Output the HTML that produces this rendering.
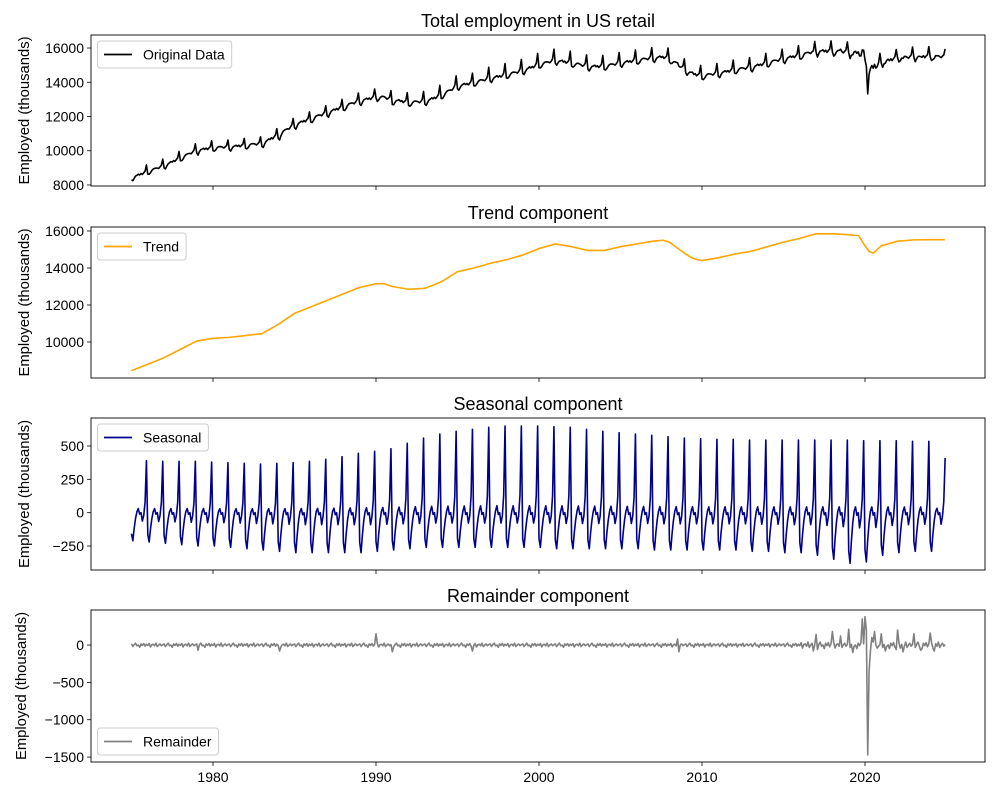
<!DOCTYPE html>
<html><head><meta charset="utf-8"><style>
body{margin:0;background:#fff;}
svg{display:block;font-family:"Liberation Sans","DejaVu Sans",sans-serif;}
</style></head><body>
<svg id="chart" width="1000" height="800" viewBox="0 0 1000 800" xmlns="http://www.w3.org/2000/svg"></svg>
<script>
// ---- data ----
const trendYears  = [1975,1976,1977,1978,1979,1980,1981,1982,1983,1984,1985,1986,1987,1988,1989,1990,1990.5,1991,1992,1993,1994,1995,1996,1997,1998,1999,2000,2001,2002,2003,2004,2005,2006,2007,2007.6,2008,2009,2009.5,2010,2011,2012,2013,2014,2015,2016,2017,2018,2019,2019.6,2020,2020.25,2020.5,2021,2022,2023,2024,2024.9];
const trendValues = [8450,8800,9150,9600,10050,10200,10250,10350,10450,10950,11550,11900,12250,12600,12950,13150,13150,13000,12850,12900,13250,13800,14000,14250,14450,14700,15050,15300,15150,14950,14950,15150,15300,15450,15500,15400,14750,14500,14400,14550,14750,14900,15150,15400,15600,15850,15850,15800,15750,15200,14900,14800,15200,15450,15520,15530,15530];
const seasonYears = [1975,1976,1977,1978,1979,1980,1981,1982,1983,1984,1985,1986,1987,1988,1989,1990,1991,1992,1993,1994,1995,1996,1997,1998,1999,2000,2001,2002,2003,2004,2005,2006,2007,2008,2009,2010,2011,2012,2013,2014,2015,2016,2017,2018,2019,2020,2021,2022,2023,2024];
const seasonPeak  = [390,385,385,385,380,375,370,365,370,375,385,400,420,445,460,480,520,560,590,610,625,640,650,650,650,645,640,625,610,600,590,580,570,560,555,550,550,545,545,545,545,545,545,545,540,540,540,535,535,410];
const seasonTrough= [-210,-220,-230,-240,-250,-250,-260,-270,-280,-290,-300,-300,-300,-300,-300,-290,-280,-270,-260,-260,-260,-260,-260,-260,-260,-260,-270,-270,-270,-270,-270,-270,-280,-280,-280,-280,-280,-280,-290,-290,-300,-300,-320,-350,-380,-370,-320,-300,-290,-290];
const monthShape  = [-0.75,-1.0,-0.55,-0.2,0.02,0.08,-0.05,0.0,-0.3,-0.1,0.2,1.0];
const noiseCycle  = [15,-20,5,25,-10,0,-30,15,-5,20,-15,10,-5,20,-25,5,10,-10,25,-20,0,15,-10,5];
const spikeMonths = ["1979-1","1984-1","1990-0","1991-0","1995-11","2008-6","2008-7","2016-10","2017-0","2017-1","2018-0","2018-6","2019-0","2019-3","2019-10","2020-0","2020-1","2020-2","2020-3","2020-4","2020-5","2020-7","2020-9","2021-0","2021-3","2021-11","2022-0","2022-4","2023-0","2023-5","2024-0","2024-3"];
const spikeValues = [-70,-80,150,-90,-80,80,-90,-80,140,-60,180,120,210,-100,350,380,200,-1470,-350,-80,100,180,-40,150,-80,-60,200,-90,150,-70,160,-80];
const xTicks = [1980,1990,2000,2010,2020];
// ---- layout ----
const X0=131.5, PXY=16.3;
const xs = y => X0+(y-1975)*PXY;
const panels = [
 {top:35,bot:186,vmin:7940,vmax:16760,title:"Total employment in US retail",ticks:[8000,10000,12000,14000,16000],color:"#000000",label:"Original Data",legendTop:true},
 {top:227,bot:378,vmin:8054,vmax:16216,title:"Trend component",ticks:[10000,12000,14000,16000],color:"#ffa500",label:"Trend",legendTop:true},
 {top:418,bot:570,vmin:-430,vmax:710,title:"Seasonal component",ticks:[-250,0,250,500],color:"#00008b",label:"Seasonal",legendTop:true},
 {top:610,bot:762,vmin:-1566,vmax:469,title:"Remainder component",ticks:[-1500,-1000,-500,0],color:"#808080",label:"Remainder",legendTop:false}
];
const svg=document.getElementById('chart');
const NS="http://www.w3.org/2000/svg";
function mk(tag,attrs,parent){const e=document.createElementNS(NS,tag);for(const k in attrs)e.setAttribute(k,attrs[k]);(parent||svg).appendChild(e);return e;}
function trendAt(t){for(let i=0;i<trendYears.length-1;i++){if(t<=trendYears[i+1]){const f=(t-trendYears[i])/(trendYears[i+1]-trendYears[i]);return trendValues[i]+f*(trendValues[i+1]-trendValues[i]);}}return trendValues[trendValues.length-1];}
const months=[],seas=[],rem=[],orig=[];
for(let yi=0;yi<seasonYears.length;yi++){for(let m=0;m<12;m++){
 const t=seasonYears[yi]+m/12;
 const sh=monthShape[m];
 const s= sh>=0? sh*seasonPeak[yi] : -sh*seasonTrough[yi];
 const key=seasonYears[yi]+"-"+m; const si=spikeMonths.indexOf(key);
 const r= si>=0? spikeValues[si] : noiseCycle[(yi*12+m)%noiseCycle.length]*(seasonYears[yi]>=2016?1.6:1.0);
 months.push(t);seas.push(s);rem.push(r);orig.push(trendAt(t)+s+r);
}}
const seriesSets=[[months,orig],[trendYears,trendValues],[months,seas],[months,rem]];
panels.forEach((p,pi)=>{
 const g=mk('g',{});  
 const ys=v=>p.bot-(v-p.vmin)/(p.vmax-p.vmin)*(p.bot-p.top);
 const t=mk('text',{x:538,y:p.top-8,'text-anchor':'middle','font-size':'18',fill:'#000'},g);t.textContent=p.title;
  
 p.ticks.forEach(v=>{const y=ys(v);mk('line',{x1:87,x2:91,y1:y,y2:y,stroke:'#000','stroke-width':0.8},g);
  const l=mk('text',{x:84,y:y+5,'text-anchor':'end','font-size':'14',fill:'#000'},g);l.textContent=(v<0?'\u2212'+(-v):v);
   });
 xTicks.forEach(v=>{const x=xs(v);mk('line',{x1:x,x2:x,y1:p.bot,y2:p.bot+4,stroke:'#000','stroke-width':0.8},g);
  if(pi===3){const l=mk('text',{x:x,y:p.bot+20,'text-anchor':'middle','font-size':'14',fill:'#000'},g);l.textContent=v;
   }});
 const yl=mk('text',{transform:`translate(${pi===3?26:29},${(p.top+p.bot)/2}) rotate(-90)`,'text-anchor':'middle','font-size':'14.8',fill:'#000'},g);
 yl.textContent='Employed (thousands)';
  
 const [tx,vy]=seriesSets[pi];
 let d='';for(let i=0;i<tx.length;i++){d+=(i?'L':'M')+xs(tx[i]).toFixed(2)+','+ys(vy[i]).toFixed(2);}
 const path=mk('path',{d:d,fill:'none',stroke:p.color,'stroke-width':1.6,'stroke-linejoin':'round'},g);
  
 mk('rect',{x:91,y:p.top,width:894,height:p.bot-p.top,fill:'none',stroke:'#000','stroke-width':0.9},g);
 const ly=p.legendTop?p.top+6:p.bot-34;
 const lg=mk('g',{},g);  
 const box=mk('rect',{x:97.5,y:ly,width:100,height:27,rx:3,fill:'#fff','fill-opacity':0.8,stroke:'#ccc'},lg);
 mk('line',{x1:104,x2:132,y1:ly+13.5,y2:ly+13.5,stroke:p.color,'stroke-width':1.8},lg);
 const lt=mk('text',{x:143,y:ly+18.5,'font-size':'14',fill:'#000'},lg);lt.textContent=p.label;
  
 box.setAttribute('width', (143+lt.getComputedTextLength()+7-97.5).toFixed(1));
});
</script>
</body></html>
